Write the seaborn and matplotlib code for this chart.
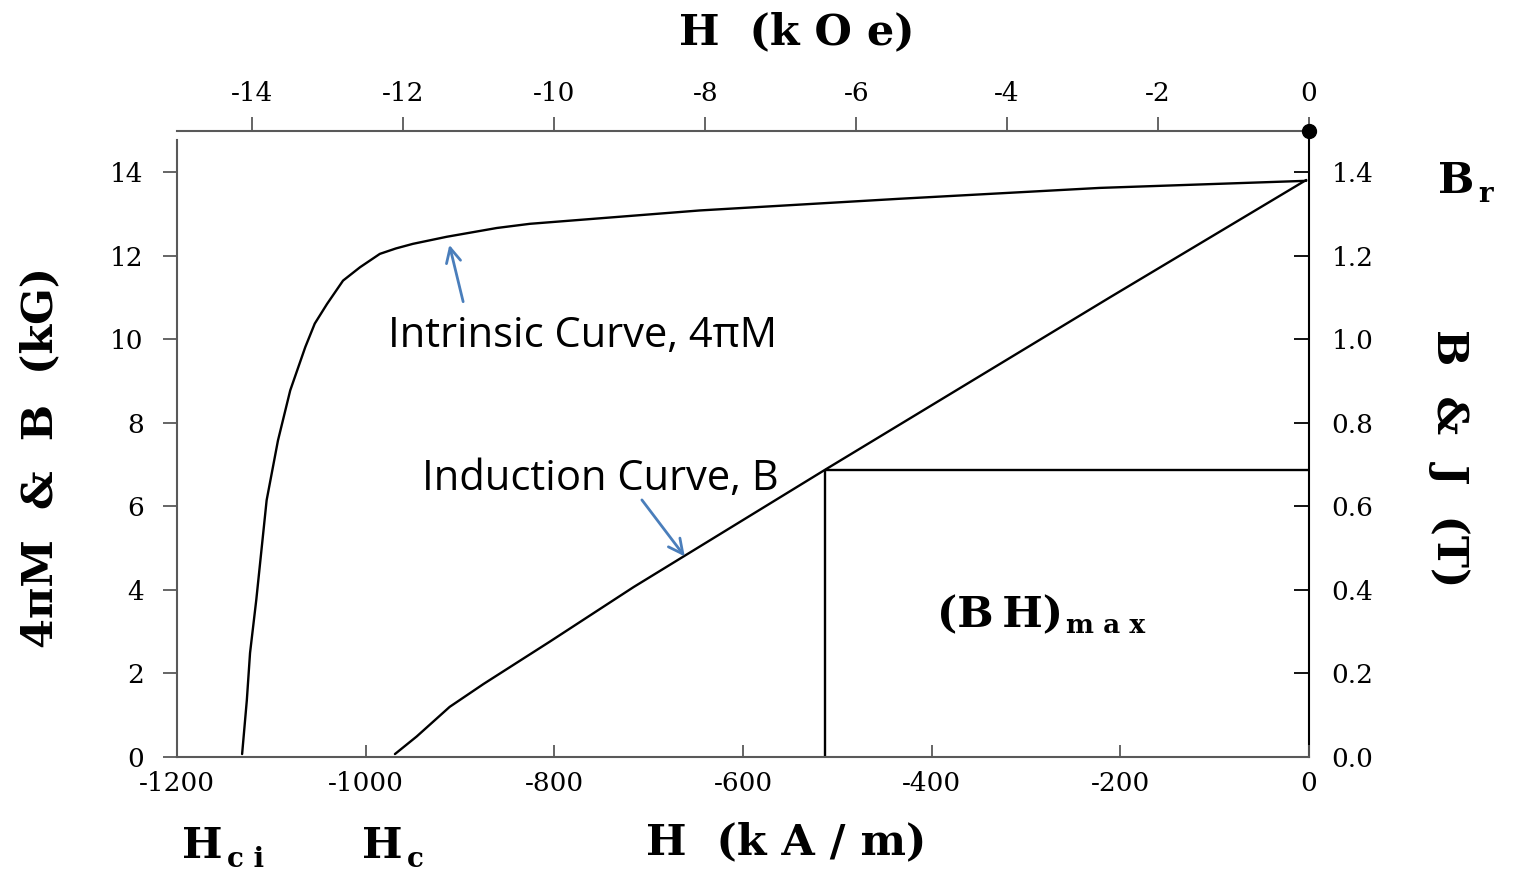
import numpy as np
import pandas as pd
import matplotlib
matplotlib.use('Agg')
import matplotlib.pyplot as plt
import seaborn as sns

# demagnetisation curves, H in kA/m, 4piM and B in kG
intrinsic_h = [-1131, -1126, -1122.6, -1116, -1105, -1093, -1080, -1064, -1054, -1041,
               -1024, -1006, -985, -968, -950, -914, -861, -826, -646, -434, -222, -3]
intrinsic_m = [0.07, 1.36, 2.49, 3.76, 6.15, 7.58, 8.78, 9.82, 10.38, 10.85,
               11.41, 11.73, 12.05, 12.18, 12.29, 12.46, 12.67, 12.77, 13.09, 13.37, 13.63, 13.80]

induction_h = [-969, -946, -911, -875, -805, -716, -513, -211, -3]
induction_b = [0.07, 0.49, 1.20, 1.75, 2.76, 4.07, 6.88, 11.01, 13.82]

# (BH)max operating point
bhmax_h = -513
bhmax_b = 6.88

h_ticks = [-1200, -1000, -800, -600, -400, -200, 0]
h_labels = ['-1200', '-1000', '-800', '-600', '-400', '-200', '0']
koe_ticks = [-14, -12, -10, -8, -6, -4, -2, 0]
koe_labels = ['-14', '-12', '-10', '-8', '-6', '-4', '-2', '0']
kg_ticks = [0, 2, 4, 6, 8, 10, 12, 14]
kg_labels = ['0', '2', '4', '6', '8', '10', '12', '14']
tesla_ticks = [0.0, 0.2, 0.4, 0.6, 0.8, 1.0, 1.2, 1.4]
tesla_labels = ['0.0', '0.2', '0.4', '0.6', '0.8', '1.0', '1.2', '1.4']

KAM_PER_KOE = 80.0
GREY = '#595959'
ARROW = '#4a7ebb'

sns.set_style('ticks')
plt.rcParams['font.family'] = ['DejaVu Serif']
plt.rcParams['axes.unicode_minus'] = False
plt.rcParams['text.color'] = 'black'
plt.rcParams['xtick.labelcolor'] = 'black'
plt.rcParams['ytick.labelcolor'] = 'black'

fig = plt.figure(figsize=(15.13, 8.72), dpi=100)
ax = fig.add_axes([0.117, 0.1319, 0.7482, 0.7182])

df_i = pd.DataFrame({'H': intrinsic_h, 'M': intrinsic_m})
df_b = pd.DataFrame({'H': induction_h, 'B': induction_b})
sns.lineplot(data=df_i, x='H', y='M', ax=ax, color='black', lw=1.7,
             estimator=None, sort=False)
sns.lineplot(data=df_b, x='H', y='B', ax=ax, color='black', lw=1.7,
             estimator=None, sort=False)

ax.vlines(bhmax_h, 0, bhmax_b, color='black', lw=1.7)
ax.hlines(bhmax_b, bhmax_h, 0, color='black', lw=1.7)

ax.set_xlim(-1200, 0)
ax.set_ylim(0, 15)
ax.set_xlabel('')
ax.set_ylabel('')

ax.set_xticks(h_ticks, labels=h_labels)
ax.set_yticks(kg_ticks, labels=kg_labels)
ax.tick_params(axis='x', direction='in', length=9, width=1.3, color=GREY,
               labelcolor='black', labelsize=19, pad=10)
ax.tick_params(axis='y', direction='out', length=10, width=1.3, color=GREY,
               labelcolor='black', labelsize=19, pad=14)
ax.spines['top'].set_visible(False)
ax.spines['right'].set_visible(False)
for s in ('left', 'bottom'):
    ax.spines[s].set_color(GREY)
    ax.spines[s].set_linewidth(1.5)
ax.spines['left'].set_bounds(0, 14.77)

top = ax.secondary_xaxis('top', functions=(lambda h: h / KAM_PER_KOE,
                                           lambda k: k * KAM_PER_KOE))
top.set_xticks(koe_ticks, labels=koe_labels)
top.tick_params(direction='out', length=10, width=1.3, color=GREY,
                labelcolor='black', labelsize=19, pad=8)
top.spines['top'].set_color(GREY)
top.spines['top'].set_linewidth(1.5)

right = ax.secondary_yaxis('right', functions=(lambda b: b / 10, lambda t: t * 10))
right.set_yticks(tesla_ticks, labels=tesla_labels)
right.tick_params(direction='in', length=11, width=1.3, color='black',
                  labelcolor='black', labelsize=19, pad=16)
right.spines['right'].set_color('black')
right.spines['right'].set_linewidth(1.5)

ax.plot([0], [15], 'o', color='black', ms=10, clip_on=False, zorder=6)

# curve annotations
sans = ['Open Sans', 'DejaVu Sans']
ax.text(-976, 9.81, 'Intrinsic Curve, 4\u03c0M', fontsize=30, family=sans,
        color='black', ha='left', va='baseline')
ax.text(-940, 6.39, 'Induction Curve, B', fontsize=30, family=sans,
        color='black', ha='left', va='baseline')
ax.annotate('', xy=(-912, 12.33), xytext=(-896, 10.84),
            arrowprops=dict(arrowstyle='->', color=ARROW, lw=2, mutation_scale=26))
ax.annotate('', xy=(-660, 4.75), xytext=(-709, 6.21),
            arrowprops=dict(arrowstyle='->', color=ARROW, lw=2, mutation_scale=26))

bh = ax.text(-394, 3.11, '(B\u2009H)', fontsize=31, fontweight='bold',
             color='black', ha='left', va='baseline')
ax.annotate('m a x', xy=(1, 0), xycoords=bh, xytext=(2, 2),
            textcoords='offset points', fontsize=19, fontweight='bold',
            color='black', ha='left', va='baseline')

# axis titles and point labels
fig.text(0.5264, 0.949, 'H  (k O e)', fontsize=31, fontweight='bold',
         color='black', ha='center', va='baseline')
fig.text(0.5198, 0.0206, 'H  (k A / m)', fontsize=31, fontweight='bold',
         color='black', ha='center', va='baseline')
fig.text(0.0264, 0.4753, '4\u03c0M  &  B  (kG)', fontsize=31, fontweight='bold',
         color='black', rotation=90, ha='center', va='center')
fig.text(0.9577, 0.4742, 'B  &  J  (T)', fontsize=31, fontweight='bold',
         color='black', rotation=270, ha='center', va='center')

for label, sub, x, y in [('H', 'c i', 0.1203, 0.016), ('H', 'c', 0.2393, 0.016),
                         ('B', 'r', 0.9504, 0.7783)]:
    t = fig.text(x, y, label, fontsize=31, fontweight='bold', color='black',
                 ha='left', va='baseline')
    ax.annotate(sub, xy=(1, 0), xycoords=t, xytext=(3, 0),
                textcoords='offset points', fontsize=20, fontweight='bold',
                color='black', ha='left', va='baseline', annotation_clip=False)

fig.savefig('out.png', dpi=100)
